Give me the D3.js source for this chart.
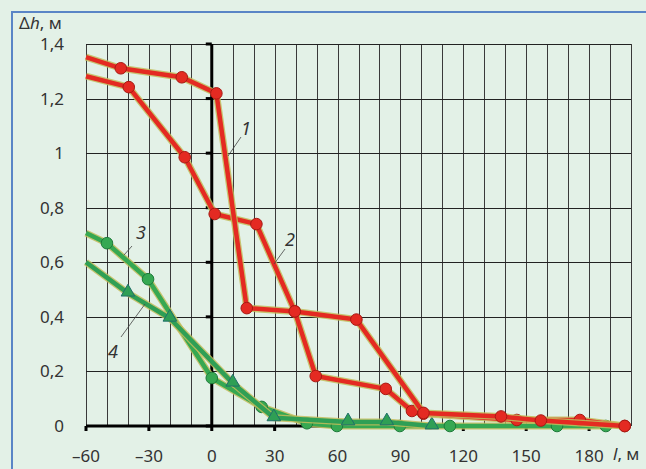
<!DOCTYPE html>
<html>
<head>
<meta charset="utf-8">
<script src="https://cdn.jsdelivr.net/npm/d3@7"></script>
<style>
  body { margin: 0; background: #e3f1e7; }
  svg { display: block; }
</style>
</head>
<body>
<script>
// curve data: l (m), dh (m)
var curve1 = [[-60,1.352],[-43.4,1.311],[-14.3,1.278],[2.2,1.219],[16.7,0.432],[39.6,0.42],[69,0.39],[101,0.048],[138,0.035],[157,0.02],[197,0]];
var curve2 = [[-60,1.282],[-39.6,1.242],[-12.9,0.985],[1.4,0.777],[21.3,0.74],[39.6,0.42],[49.6,0.183],[83,0.136],[95.5,0.055],[101,0.045],[145.5,0.022],[175.6,0.022],[197,0]];
var curve3 = [[-60,0.707],[-50,0.67],[-30.4,0.538],[0,0.176],[23.8,0.07],[45.4,0.01],[59.7,0],[89.7,0],[113.6,0],[164.7,0],[188,0]];
var curve4 = [[-60,0.6],[-40,0.487],[-20,0.395],[10,0.157],[29.6,0.03],[65,0.015],[83.5,0.015],[105,0]];

var xTicks = [-60,-30,0,30,60,90,120,150,180];
var yTicks = [0,0.2,0.4,0.6,0.8,1,1.2,1.4];

var w = 646, h = 469;

var svg = d3.select("body").append("svg")
  .attr("width", w)
  .attr("height", h);

// blue frame, open to the right and bottom
svg.append("path")
  .attr("d", "M12,480 L12,12 L660,12")
  .attr("fill", "none")
  .attr("stroke", "#5a85c6")
  .attr("stroke-width", 2);

var x = d3.scaleLinear().domain([-60, 200]).range([86, 631]);
var y = d3.scaleLinear().domain([0, 1.4]).range([426, 44]);

// grid
svg.append("g").selectAll("line")
  .data(d3.range(-60, 201, 10))
  .enter().append("line")
  .attr("x1", function(d) { return Math.round(x(d)) + 0.5; })
  .attr("x2", function(d) { return Math.round(x(d)) + 0.5; })
  .attr("y1", y(0))
  .attr("y2", y(1.4))
  .attr("stroke", "#3a3a3a")
  .attr("stroke-width", 1);

svg.append("g").selectAll("line")
  .data(yTicks)
  .enter().append("line")
  .attr("x1", x(-60))
  .attr("x2", x(200))
  .attr("y1", function(d) { return Math.round(y(d)) + 0.5; })
  .attr("y2", function(d) { return Math.round(y(d)) + 0.5; })
  .attr("stroke", "#222")
  .attr("stroke-width", 1);

// main axes (thick black)
svg.append("line")
  .attr("x1", x(0)).attr("x2", x(0))
  .attr("y1", y(0)).attr("y2", y(1.4))
  .attr("stroke", "#000").attr("stroke-width", 3);
svg.append("line")
  .attr("x1", x(-60)).attr("x2", x(200))
  .attr("y1", y(0)).attr("y2", y(0))
  .attr("stroke", "#000").attr("stroke-width", 3);

// tick marks
svg.append("g").selectAll("rect")
  .data(yTicks)
  .enter().append("rect")
  .attr("x", x(0) - 6)
  .attr("y", function(d) { return y(d) - 1.5; })
  .attr("width", 6)
  .attr("height", 3)
  .attr("fill", "#000");
svg.append("g").selectAll("rect")
  .data(xTicks)
  .enter().append("rect")
  .attr("x", function(d) { return x(d) - 1.5; })
  .attr("y", y(0))
  .attr("width", 3)
  .attr("height", 5)
  .attr("fill", "#000");

// tick labels
var font = "'Noto Sans', 'Open Sans', sans-serif";
svg.append("g").selectAll("text")
  .data(yTicks)
  .enter().append("text")
  .attr("x", 64)
  .attr("y", function(d) { return y(d) + 6; })
  .attr("text-anchor", "end")
  .attr("font-family", font)
  .attr("font-size", "17px")
  .attr("fill", "#333")
  .text(function(d) { return String(d).replace(".", ","); });

svg.append("g").selectAll("text")
  .data(xTicks)
  .enter().append("text")
  .attr("x", function(d) { return x(d); })
  .attr("y", 462)
  .attr("text-anchor", "middle")
  .attr("font-family", font)
  .attr("font-size", "17px")
  .attr("fill", "#333")
  .text(function(d) { return d < 0 ? "\u2013" + Math.abs(d) : d; });

// axis titles
var yt = svg.append("text")
  .attr("x", 19).attr("y", 29)
  .attr("font-family", font).attr("font-size", "17px").attr("fill", "#333");
yt.append("tspan").text("\u0394");
yt.append("tspan").attr("font-style", "italic").text("h");
yt.append("tspan").text(", м");

var xt = svg.append("text")
  .attr("x", 613).attr("y", 460)
  .attr("font-family", font).attr("font-size", "17px").attr("fill", "#333");
xt.append("tspan").attr("font-style", "italic").text("l");
xt.append("tspan").text(", м");

// curves
var line = d3.line()
  .x(function(d) { return x(d[0]); })
  .y(function(d) { return y(d[1]); });

function drawCurve(data, color, dark, marker) {
  var g = svg.append("g");
  g.append("path")
    .attr("d", line(data))
    .attr("fill", "none")
    .attr("stroke", "#c2bc5a")
    .attr("stroke-opacity", 0.85)
    .attr("stroke-width", 7)
    .attr("stroke-linejoin", "round");
  g.append("path")
    .attr("d", line(data))
    .attr("fill", "none")
    .attr("stroke", color)
    .attr("stroke-width", 4.5)
    .attr("stroke-linejoin", "round");
  var pts = data.slice(1);
  if (marker === "circle") {
    g.selectAll("circle")
      .data(pts)
      .enter().append("circle")
      .attr("cx", function(d) { return x(d[0]); })
      .attr("cy", function(d) { return y(d[1]); })
      .attr("r", 5.8)
      .attr("fill", color)
      .attr("stroke", dark)
      .attr("stroke-width", 1);
  } else {
    g.selectAll("path.tri")
      .data(pts)
      .enter().append("path")
      .attr("class", "tri")
      .attr("d", d3.symbol().type(d3.symbolTriangle).size(80))
      .attr("transform", function(d) { return "translate(" + x(d[0]) + "," + (y(d[1]) - 1) + ")"; })
      .attr("fill", color)
      .attr("stroke", dark)
      .attr("stroke-width", 1);
  }
}

drawCurve(curve3, "#36a852", "#1d7a3a", "circle");
drawCurve(curve4, "#2f9f55", "#1f6f6a", "triangle");
drawCurve(curve2, "#e42a22", "#a81a14", "circle");
drawCurve(curve1, "#e42a22", "#a81a14", "circle");

// curve labels with leader lines
var labels = [
  { t: "1", x: 246, y: 135, lx1: 241, ly1: 137, lx2: 228, ly2: 156 },
  { t: "2", x: 290, y: 246, lx1: 285, ly1: 249, lx2: 274, ly2: 264 },
  { t: "3", x: 141, y: 239, lx1: 132, ly1: 246, lx2: 124, ly2: 255 },
  { t: "4", x: 113, y: 358, lx1: 121, ly1: 337, lx2: 145, ly2: 304 }
];
svg.append("g").selectAll("line")
  .data(labels)
  .enter().append("line")
  .attr("x1", function(d) { return d.lx1; })
  .attr("y1", function(d) { return d.ly1; })
  .attr("x2", function(d) { return d.lx2; })
  .attr("y2", function(d) { return d.ly2; })
  .attr("stroke", "#444")
  .attr("stroke-width", 0.8);
svg.append("g").selectAll("text")
  .data(labels)
  .enter().append("text")
  .attr("x", function(d) { return d.x; })
  .attr("y", function(d) { return d.y; })
  .attr("text-anchor", "middle")
  .attr("font-family", font)
  .attr("font-size", "18px")
  .attr("font-style", "italic")
  .attr("fill", "#333")
  .text(function(d) { return d.t; });
</script>
</body>
</html>
